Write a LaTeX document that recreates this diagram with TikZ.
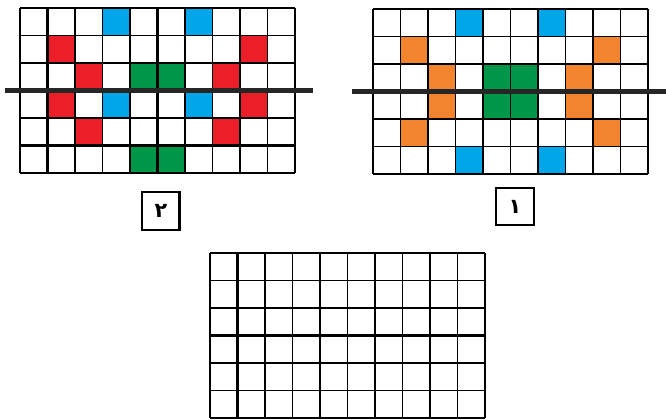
\documentclass[tikz,border=0pt]{standalone}
\usepackage{fontspec}
\newfontfamily\arabicfont[Script=Arabic]{DejaVu Sans}
\TeXXeTstate=1
\usetikzlibrary{positioning}

\definecolor{cred}{RGB}{236,30,40}
\definecolor{cblue}{RGB}{0,166,232}
\definecolor{cgreen}{RGB}{0,152,72}
\definecolor{corange}{RGB}{242,132,48}

\tikzset{
  gridline/.style={line width=1.1pt, black},
  midline/.style={line width=1.8pt, black},
  axisline/.style={line width=3pt, black!85},
  numbox/.style={draw, line width=1.5pt, minimum width=0.95cm, minimum height=0.95cm,
    inner sep=0pt, font=\arabicfont\bfseries\fontsize{15}{18}\selectfont}
}

\begin{document}
\begin{tikzpicture}[scale=0.7]
\useasboundingbox (0,0) rectangle (24.22,15.27);
% pattern 2 (left)
\begin{scope}[shift={(0.73,8.98)}]
\foreach \c/\r/\col in {3/0/cblue,6/0/cblue,1/1/cred,8/1/cred,2/2/cred,4/2/cgreen,5/2/cgreen,7/2/cred,
  1/3/cred,3/3/cblue,6/3/cblue,8/3/cred,2/4/cred,7/4/cred,4/5/cgreen,5/5/cgreen}
  \fill[\col] (\c,5-\r) rectangle +(1,1);
\draw[gridline] (0,0) grid (10,6);
\draw[midline] (0,1) -- (10,1);
\draw[midline] (1,0) -- (1,6);
\draw[midline] (5,0) -- (5,6);
\draw[axisline] (-0.55,3) -- (10.65,3);
\end{scope}
% pattern 1 (right)
\begin{scope}[shift={(13.56,8.94)}]
\foreach \c/\r/\col in {3/0/cblue,6/0/cblue,1/1/corange,8/1/corange,2/2/corange,4/2/cgreen,5/2/cgreen,7/2/corange,
  2/3/corange,4/3/cgreen,5/3/cgreen,7/3/corange,1/4/corange,8/4/corange,3/5/cblue,6/5/cblue}
  \fill[\col] (\c,5-\r) rectangle +(1,1);
\draw[gridline] (0,0) grid (10,6);
\draw[midline] (0,2) -- (10,2);
\draw[midline] (6,0) -- (6,6);
\draw[axisline] (-0.77,3) -- (10.66,3);
\end{scope}
% empty grid
\begin{scope}[shift={(7.64,0.07)}]
\draw[gridline] (0,0) grid (10,6);
\draw[midline] (0,3) -- (10,3);
\draw[midline] (0,2) -- (10,2);
\draw[midline] (1,0) -- (1,6);
\draw[midline] (6,0) -- (6,6);
\end{scope}
\node[numbox] (lbltwo) at (5.85,7.60) {\beginR ۲\endR};
\node[numbox] (lblone) at (18.73,7.75) {\beginR ۱\endR};
\end{tikzpicture}
\end{document}
